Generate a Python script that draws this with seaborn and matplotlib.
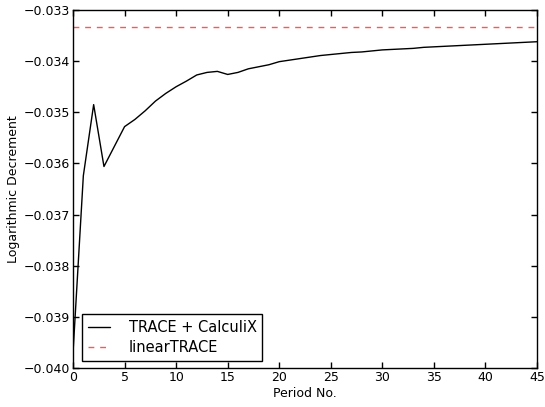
import numpy as np
import pandas as pd
import matplotlib
matplotlib.use("Agg")
import matplotlib.pyplot as plt
import seaborn as sns

period = list(range(0, 46))
coupled = [-0.03970, -0.03624, -0.03485, -0.03606, -0.03567, -0.03528, -0.03514,
           -0.03497, -0.03478, -0.03463, -0.03450, -0.03439, -0.03427, -0.03422,
           -0.03420, -0.03426, -0.03422, -0.03415, -0.03411, -0.03407, -0.03401,
           -0.03398, -0.03395, -0.03392, -0.03389, -0.03387, -0.03385, -0.03383,
           -0.03382, -0.03380, -0.03378, -0.03377, -0.03376, -0.03375, -0.03373,
           -0.03372, -0.03371, -0.03370, -0.03369, -0.03368, -0.03367, -0.03366,
           -0.03365, -0.03364, -0.03363, -0.03362]
linear_value = -0.03334
linear = [linear_value] * len(period)

series_names = ["TRACE + CalculiX", "linearTRACE"]
xticks = [0, 5, 10, 15, 20, 25, 30, 35, 40, 45]
yticks = [-0.040, -0.039, -0.038, -0.037, -0.036, -0.035, -0.034, -0.033]

sns.set_style("ticks")
plt.rcParams['font.family'] = ['DejaVu Sans']
plt.rcParams['xtick.direction'] = 'in'
plt.rcParams['ytick.direction'] = 'in'
plt.rcParams['text.color'] = 'black'
plt.rcParams['axes.labelcolor'] = 'black'
plt.rcParams['xtick.color'] = 'black'
plt.rcParams['ytick.color'] = 'black'
plt.rcParams['axes.edgecolor'] = 'black'

df = pd.DataFrame({
    "period": period + period,
    "value": coupled + linear,
    "series": [series_names[0]] * len(period) + [series_names[1]] * len(period),
})

fig = plt.figure(figsize=(5.45, 4.07), dpi=100)
ax = fig.add_axes([0.134, 0.0958, 0.8513, 0.8796])

sns.lineplot(data=df[df.series == series_names[0]], x="period", y="value",
             color="black", lw=1.0, ax=ax, label=series_names[0])
sns.lineplot(data=df[df.series == series_names[1]], x="period", y="value",
             color="#ff2a2a", alpha=0.8, lw=1.0, dashes=False, ax=ax,
             label=series_names[1])
ax.lines[1].set_dashes((4.2, 4.2))

ax.set_xlim(0, 45)
ax.set_ylim(-0.040, -0.033)
ax.set_xticks(xticks)
ax.set_yticks(yticks)
ax.set_yticklabels([f"{v:.3f}".replace("-", "\u2212") for v in yticks])
ax.tick_params(axis='both', which='major', direction='in', length=4, width=1,
               labelsize=9, top=True, right=True, color='black',
               labelcolor='black', pad=2)
for s in ax.spines.values():
    s.set_color('black')
    s.set_linewidth(1.0)
    s.set_visible(True)

ax.set_xlabel("Period No.", fontsize=9, labelpad=2, color='black')
ax.set_ylabel("Logarithmic Decrement", fontsize=9, labelpad=3, color='black')

leg = ax.legend(loc='lower left', bbox_to_anchor=(0.019, 0.02), borderaxespad=0,
                fontsize=10.5, handlelength=1.5, fancybox=False, frameon=True,
                framealpha=1, edgecolor='black', borderpad=0.4,
                labelspacing=0.35, handletextpad=1.3)
leg.get_frame().set_linewidth(1.0)
for t in leg.get_texts():
    t.set_color('black')

fig.savefig("out.png", dpi=100)
